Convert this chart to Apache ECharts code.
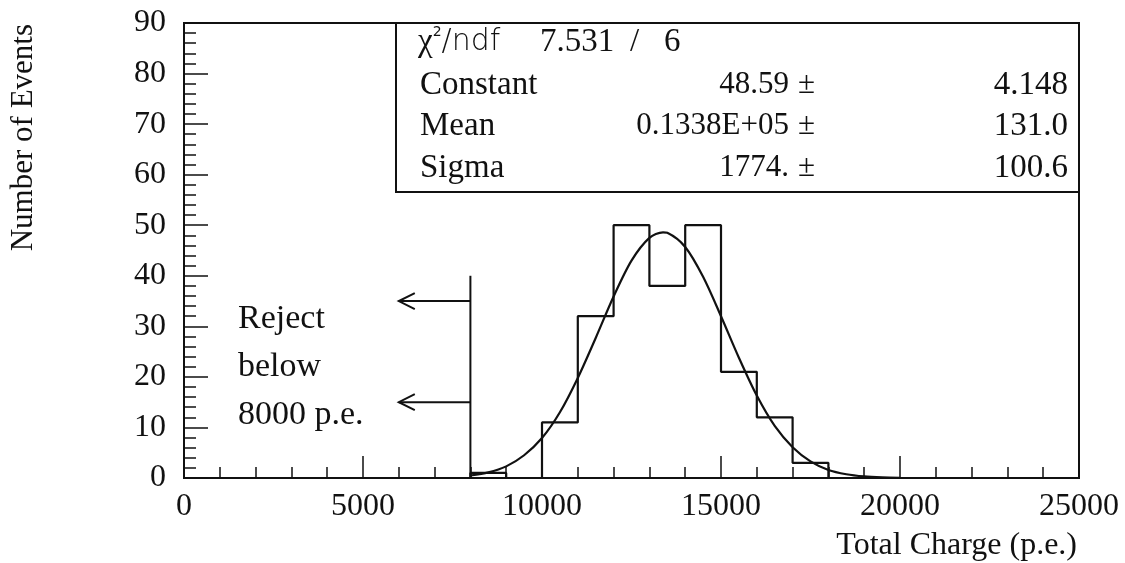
<!DOCTYPE html>
<html>
<head>
<meta charset="utf-8">
<script src="https://cdn.jsdelivr.net/npm/echarts@6/dist/echarts.min.js"></script>
<style>
html,body{margin:0;padding:0;background:#fff;}
#chart{width:1125px;height:563px;}
</style>
</head>
<body>
<div id="chart"></div>
<script>
// ---- data ----
const binEdges = [8000, 9000, 10000, 11000, 12000, 13000, 14000, 15000, 16000, 17000, 18000];
const binCounts = [1, 0, 11, 32, 50, 38, 50, 21, 12, 3];
const fitX = [8000, 8500, 9000, 9500, 10000, 10500, 11000, 11500, 12000, 12500, 13000, 13380, 13500, 14000, 14500, 15000, 15500, 16000, 16500, 17000, 17500, 18000, 18500, 19000, 19500, 20000];
const fitY = [0.5, 1.1, 2.3, 4.5, 7.9, 13.0, 19.8, 27.7, 35.9, 43.0, 47.5, 48.6, 48.5, 45.7, 39.8, 32.0, 23.8, 16.3, 10.3, 6.1, 3.3, 1.6, 0.75, 0.32, 0.13, 0.05];
const rejectCut = 8000;
const rejectTop = 40;
const arrowLevels = [35, 15];
const arrowTipX = 6000;
const rejectText = ['Reject', 'below', '8000 p.e.'];
const statNames = ['Constant', 'Mean', 'Sigma'];
const statValues = ['48.59', '0.1338E+05', '1774.'];
const statErrors = ['4.148', '131.0', '100.6'];
const chi2Text = '7.531';
const ndfText = '6';
const xTitle = 'Total Charge (p.e.)';
const yTitle = 'Number of Events';

// ---- build histogram outline from bins ----
const histPts = [[binEdges[0], 0]];
for (let i = 0; i < binCounts.length; i++) {
  histPts.push([binEdges[i], binCounts[i]]);
  histPts.push([binEdges[i + 1], binCounts[i]]);
}
histPts.push([binEdges[binEdges.length - 1], 0]);
const fitPts = fitX.map((x, i) => [x, fitY[i]]);

const SERIF = '"Liberation Serif", "Times New Roman", serif';
const INK = '#111';

const chart = echarts.init(document.getElementById('chart'), null, {renderer: 'canvas'});

const graphics = [];
// stats box
const bx = 396, by = 23, bw = 1079 - 396, bh = 192 - 23;
graphics.push({type: 'rect', shape: {x: bx, y: by, width: bw, height: bh}, style: {fill: '#fff', stroke: INK, lineWidth: 2}, z: 10});
const rowY = [42, 85, 126, 168];
const SF = 33;
graphics.push({type: 'text', x: 418, y: rowY[0], z: 11, style: {
  text: '{c|χ}{s|2}{n|/ndf}', verticalAlign: 'middle', fill: INK,
  rich: {c: {fontFamily: SERIF, fontSize: 33, fill: INK}, s: {fontFamily: '"DejaVu Sans", sans-serif', fontSize: 14, verticalAlign: 'top', padding: [0, 0, 18, 0], fill: INK}, n: {fontFamily: '"DejaVu Sans", sans-serif', fontSize: 30, fontWeight: 200, fill: INK}}
}});
graphics.push({type: 'text', x: 540, y: rowY[0], z: 11, style: {text: chi2Text, fontFamily: SERIF, fontSize: SF, fill: INK, verticalAlign: 'middle'}});
graphics.push({type: 'text', x: 630, y: rowY[0], z: 11, style: {text: '/', fontFamily: SERIF, fontSize: SF, fill: INK, verticalAlign: 'middle'}});
graphics.push({type: 'text', x: 664, y: rowY[0], z: 11, style: {text: ndfText, fontFamily: SERIF, fontSize: SF, fill: INK, verticalAlign: 'middle'}});
for (let i = 0; i < statNames.length; i++) {
  graphics.push({type: 'text', x: 420, y: rowY[i + 1], z: 11, style: {text: statNames[i], fontFamily: SERIF, fontSize: SF, fill: INK, verticalAlign: 'middle'}});
  graphics.push({type: 'text', x: 789, y: rowY[i + 1], z: 11, style: {text: statValues[i], fontFamily: SERIF, fontSize: 31, fill: INK, verticalAlign: 'middle', align: 'right'}});
  graphics.push({type: 'text', x: 815, y: rowY[i + 1], z: 11, style: {text: '±', fontFamily: SERIF, fontSize: 31, fill: INK, verticalAlign: 'middle', align: 'right'}});
  graphics.push({type: 'text', x: 1068, y: rowY[i + 1], z: 11, style: {text: statErrors[i], fontFamily: SERIF, fontSize: SF, fill: INK, verticalAlign: 'middle', align: 'right'}});
}
// reject annotation text
const rejY = [319, 367, 415];
rejectText.forEach((t, i) => graphics.push({type: 'text', x: 238, y: rejY[i], z: 11, style: {text: t, fontFamily: SERIF, fontSize: 34, fill: INK, verticalAlign: 'middle'}}));
// axis titles
graphics.push({type: 'text', x: 1077, y: 546, z: 11, style: {text: xTitle, fontFamily: SERIF, fontSize: 32, fill: INK, verticalAlign: 'middle', align: 'right'}});
graphics.push({type: 'text', x: 24, y: 24, rotation: Math.PI / 2, z: 11, style: {text: yTitle, fontFamily: SERIF, fontSize: 31, fill: INK, verticalAlign: 'middle', align: 'right'}});

const option = {
  backgroundColor: '#fff',
  animation: false,
  grid: {left: 184, right: 46, top: 23, bottom: 85, show: true, borderColor: INK, borderWidth: 2, backgroundColor: 'transparent'},
  xAxis: {
    type: 'value', min: 0, max: 25000, interval: 5000,
    axisLine: {show: true, onZero: false, lineStyle: {color: INK, width: 2}},
    axisTick: {show: true, inside: true, length: 22, lineStyle: {color: INK, width: 1.5}},
    minorTick: {show: true, splitNumber: 5, length: 11, lineStyle: {color: INK, width: 1.5}},
    splitLine: {show: false},
    axisLabel: {color: INK, fontFamily: SERIF, fontSize: 32, margin: 13, formatter: v => String(v)}
  },
  yAxis: {
    type: 'value', min: 0, max: 90, interval: 10,
    axisLine: {show: true, onZero: false, lineStyle: {color: INK, width: 2}},
    axisTick: {show: true, inside: true, length: 24, lineStyle: {color: INK, width: 1.5}},
    minorTick: {show: true, splitNumber: 5, length: 12, lineStyle: {color: INK, width: 1.5}},
    splitLine: {show: false},
    axisLabel: {color: INK, fontFamily: SERIF, fontSize: 32, margin: 18, formatter: v => String(v)}
  },
  graphic: graphics,
  series: [
    {type: 'line', data: histPts, showSymbol: false, lineStyle: {color: INK, width: 2.2}, z: 3, silent: true},
    {type: 'line', data: fitPts, showSymbol: false, smooth: 0.3, lineStyle: {color: INK, width: 2.2}, z: 4, silent: true},
    {type: 'line', data: [[rejectCut, 0], [rejectCut, rejectTop]], showSymbol: false, lineStyle: {color: INK, width: 2}, z: 4, silent: true},
    {
      type: 'custom', silent: true, z: 5,
      data: arrowLevels.map(y => [arrowTipX, y]),
      renderItem: function (params, api) {
        const tip = api.coord([api.value(0), api.value(1)]);
        const base = api.coord([rejectCut, api.value(1)]);
        return {type: 'group', children: [
          {type: 'line', shape: {x1: base[0], y1: base[1], x2: tip[0], y2: tip[1]}, style: {stroke: INK, lineWidth: 2}},
          {type: 'polyline', shape: {points: [[tip[0] + 16, tip[1] - 8], [tip[0], tip[1]], [tip[0] + 16, tip[1] + 8]]}, style: {stroke: INK, fill: null, lineWidth: 2}}
        ]};
      }
    }
  ]
};
chart.setOption(option);
</script>
</body>
</html>
